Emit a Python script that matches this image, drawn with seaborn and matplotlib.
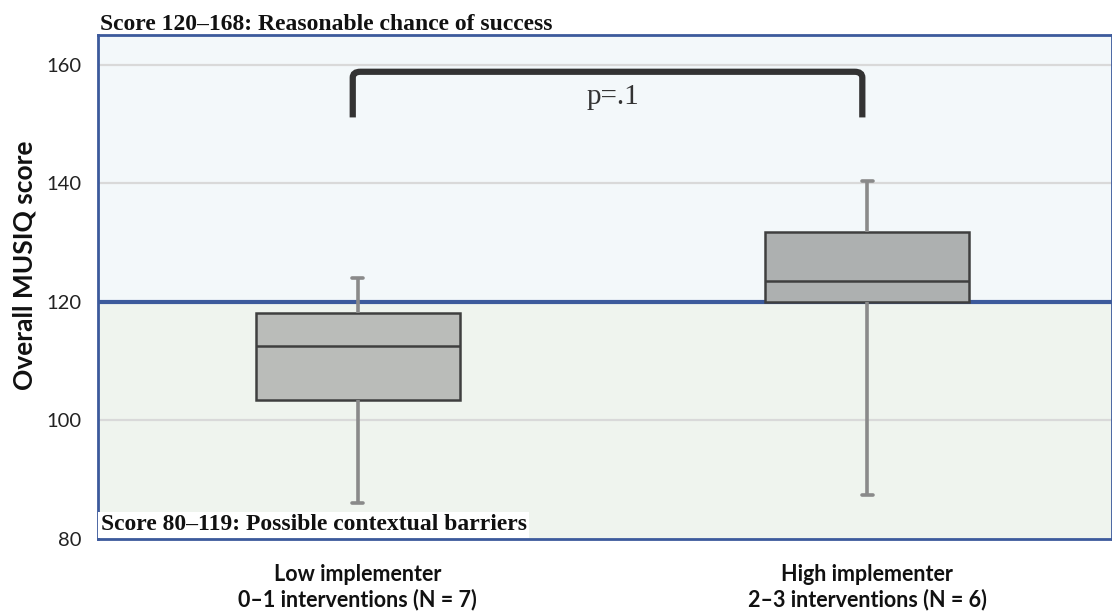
import numpy as np
import pandas as pd
import seaborn as sns
import matplotlib.pyplot as plt
from matplotlib.path import Path
from matplotlib.patches import PathPatch

# Five-number summaries (min, Q1, median, Q3, max) of the overall MUSIQ score
groups = ["Low implementer\n0–1 interventions (N = 7)",
          "High implementer\n2–3 interventions (N = 6)"]
low_summary = [86.0, 103.5, 112.6, 118.1, 124.0]
high_summary = [87.4, 120.0, 123.5, 131.8, 140.3]
box_colors = ["#babdb8", "#adb0b0"]

threshold = 120
y_min, y_max = 80, 165
y_ticks = [80, 100, 120, 140, 160]
p_label = "p=.1"

df = pd.DataFrame({
    "group": [groups[0]] * len(low_summary) + [groups[1]] * len(high_summary),
    "score": low_summary + high_summary,
})

sns.set_theme(style="white")
plt.rcParams["font.family"] = ["Lato", "DejaVu Sans"]

fig = plt.figure(figsize=(11.12, 6.12), dpi=100)
ax = fig.add_axes([0.0881, 0.1193, 0.9119, 0.8235])

# Shaded score bands
ax.axhspan(threshold, y_max, color="#f3f8fa", zorder=0)
ax.axhspan(y_min, threshold, color="#eff4ee", zorder=0)
for g in [100, 140, 160]:
    ax.axhline(g, color="#d9d9d9", lw=1.6, zorder=0.5)

sns.boxplot(data=df, x="group", y="score", hue="group", palette=box_colors,
            legend=False, width=0.4, whis=(0, 100), ax=ax,
            linecolor="#3f3f3f", linewidth=1.8,
            whiskerprops=dict(color="#8a8a8a", lw=2.6),
            capprops=dict(color="#8a8a8a", lw=2.6),
            medianprops=dict(color="#3f3f3f", lw=1.8),
            capwidths=0.022, zorder=2)

# Threshold line between bands
ax.axhline(threshold, color="#3c5a9c", lw=3, zorder=1.5)

# Significance bracket
bx0, bx1, by_top, by_bot = -0.01, 0.99, 158.8, 151.1
verts = [(bx0, by_bot), (bx0, by_top - 1.0), (bx0, by_top), (bx0 + 0.015, by_top),
         (bx1 - 0.015, by_top), (bx1, by_top), (bx1, by_top - 1.0), (bx1, by_bot)]
codes = [Path.MOVETO, Path.LINETO, Path.CURVE3, Path.CURVE3,
         Path.LINETO, Path.CURVE3, Path.CURVE3, Path.LINETO]
ax.add_patch(PathPatch(Path(verts, codes), fill=False, edgecolor="#333333",
                       lw=4.5, capstyle="butt", zorder=3))
ax.text((bx0 + bx1) / 2 + 0.01, 154.6, p_label, ha="center", va="center",
        fontsize=21, family=["Liberation Serif"], color="#333333", zorder=3)

ax.set_xlim(-0.51, 1.48)
ax.set_ylim(y_min, y_max)
ax.set_yticks(y_ticks)
ax.set_xlabel("")
ax.set_ylabel("Overall MUSIQ score", fontsize=19, fontweight="bold",
              color="#111111")
ax.yaxis.set_label_coords(-0.061, 0.544)
ax.tick_params(axis="y", length=0, labelsize=14.5, labelcolor="#222222", pad=12)
ax.tick_params(axis="x", length=0, labelsize=15.5, pad=18)
for lbl in ax.get_xticklabels():
    lbl.set_fontweight("bold")
    lbl.set_linespacing(1.2)
    lbl.set_color("#111111")

for s in ax.spines.values():
    s.set_color("#3c5a9c")
    s.set_linewidth(2)
    s.set_zorder(4)

# Band captions
fig.text(0.0899, 1 - 30 / 612, "Score 120–168: Reasonable chance of success",
         family=["Liberation Serif"], fontweight="bold", fontsize=17,
         color="#111111", ha="left", va="baseline")
ax.text(-0.505, 80.6, "Score 80–119: Possible contextual barriers",
        family=["Liberation Serif"], fontweight="bold", fontsize=17,
        color="#111111", ha="left", va="bottom", zorder=5,
        bbox=dict(facecolor="white", edgecolor="none", pad=2))

fig.savefig("out.png", dpi=100, facecolor="white")
